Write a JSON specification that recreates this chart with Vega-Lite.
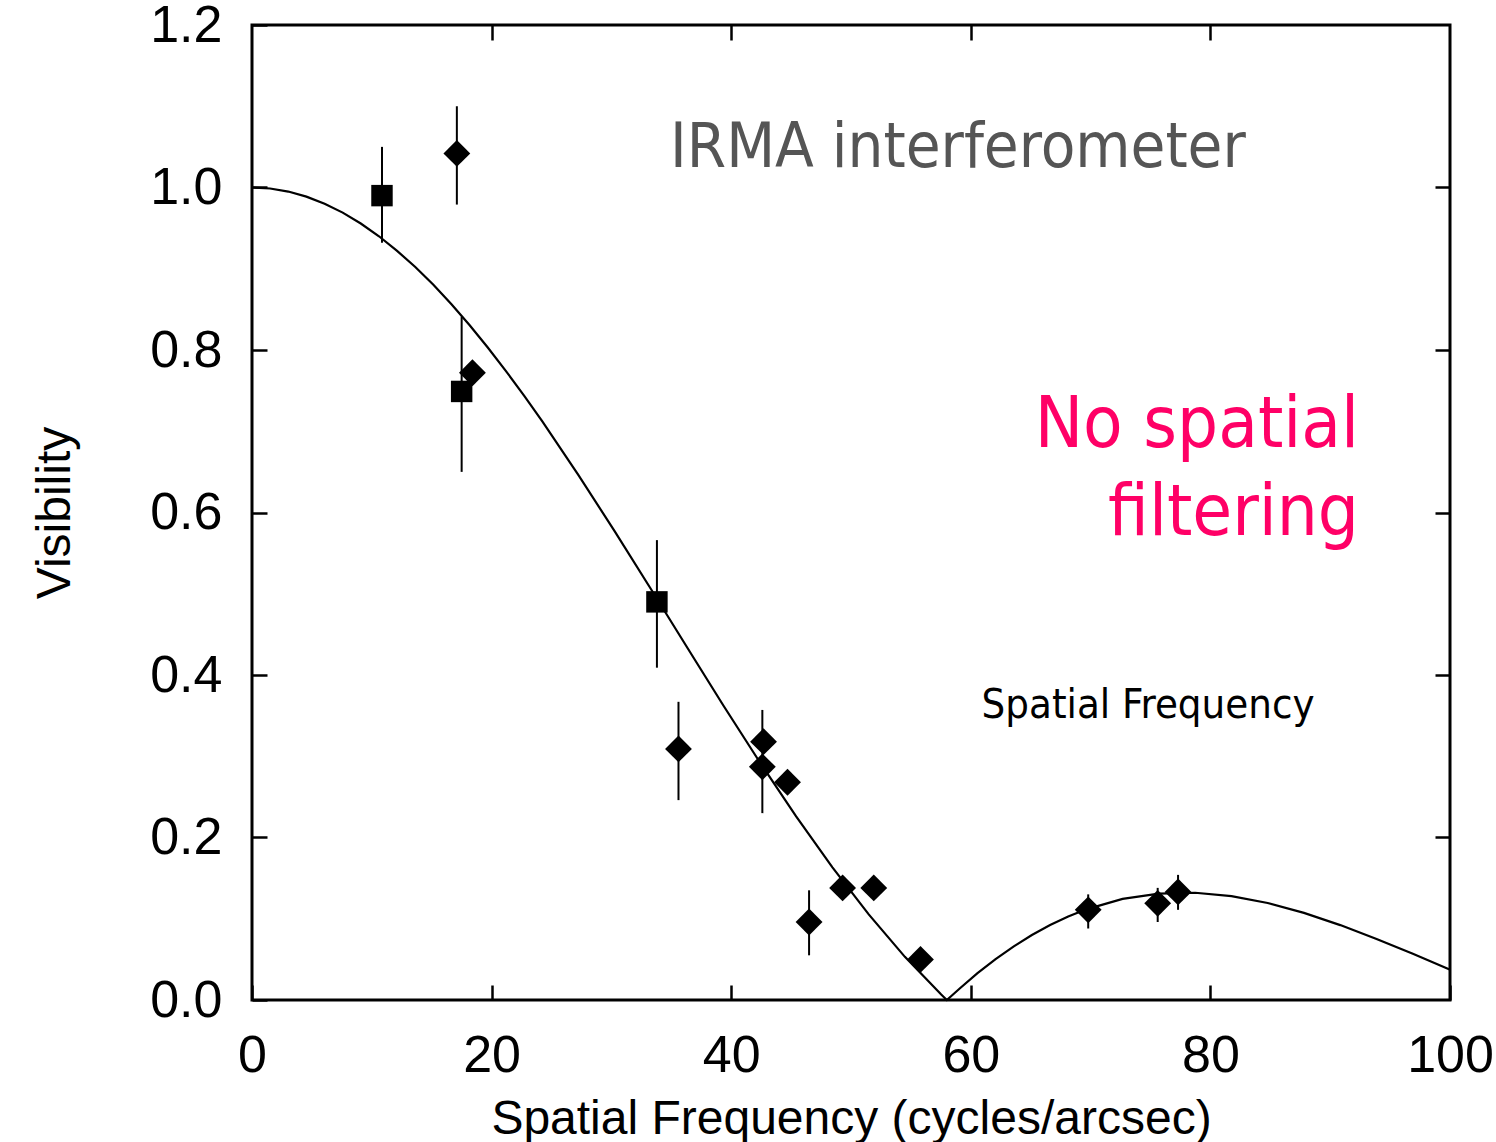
{
  "$schema": "https://vega.github.io/schema/vega-lite/v6.json",
  "width": 1198,
  "height": 975,
  "autosize": {"type": "none"},
  "padding": {"left": 252, "top": 25, "right": 46, "bottom": 142},
  "background": "white",
  "config": {
    "view": {"stroke": "black", "strokeWidth": 3},
    "axis": {
      "grid": false,
      "domain": false,
      "tickColor": "black",
      "tickWidth": 2.5,
      "tickSize": -15,
      "labelColor": "black",
      "titleColor": "black",
      "labelFont": "Liberation Sans Narrow, Arial Narrow, Liberation Sans, Arial",
      "titleFont": "Liberation Sans Narrow, Arial Narrow, Liberation Sans, Arial",
      "labelFontSize": 52,
      "titleFontSize": 48,
      "titleFontWeight": "normal",
      "labelFlush": false,
      "labelOverlap": false
    }
  },
  "datasets": {
    "curve": [
      {"q": 0, "v": 1.0},
      {"q": 1.51, "v": 0.99875},
      {"q": 3.03, "v": 0.995},
      {"q": 4.54, "v": 0.98879},
      {"q": 6.06, "v": 0.98},
      {"q": 7.57, "v": 0.96907},
      {"q": 9.08, "v": 0.9557},
      {"q": 10.6, "v": 0.93999},
      {"q": 12.11, "v": 0.922},
      {"q": 13.63, "v": 0.90211},
      {"q": 15.14, "v": 0.8802},
      {"q": 16.65, "v": 0.85619},
      {"q": 18.17, "v": 0.8305},
      {"q": 19.68, "v": 0.80311},
      {"q": 21.2, "v": 0.7741},
      {"q": 22.71, "v": 0.74392},
      {"q": 24.22, "v": 0.7124},
      {"q": 27.25, "v": 0.6461},
      {"q": 30.28, "v": 0.5767},
      {"q": 33.31, "v": 0.5055},
      {"q": 36.34, "v": 0.4335},
      {"q": 39.36, "v": 0.3622},
      {"q": 42.39, "v": 0.2926},
      {"q": 45.42, "v": 0.2261},
      {"q": 48.45, "v": 0.1633},
      {"q": 51.48, "v": 0.1054},
      {"q": 54.5, "v": 0.0531},
      {"q": 57.53, "v": 0.0067},
      {"q": 58.0, "v": 0.0},
      {"q": 59.05, "v": 0.0139},
      {"q": 60.56, "v": 0.033},
      {"q": 62.07, "v": 0.0504},
      {"q": 63.59, "v": 0.066},
      {"q": 65.1, "v": 0.08},
      {"q": 66.62, "v": 0.0922},
      {"q": 68.13, "v": 0.1027},
      {"q": 69.64, "v": 0.1116},
      {"q": 72.67, "v": 0.1244},
      {"q": 75.7, "v": 0.131},
      {"q": 78.73, "v": 0.132},
      {"q": 81.76, "v": 0.1279},
      {"q": 84.78, "v": 0.1194},
      {"q": 87.81, "v": 0.1072},
      {"q": 90.84, "v": 0.0922},
      {"q": 93.87, "v": 0.0751},
      {"q": 96.9, "v": 0.0568},
      {"q": 99.92, "v": 0.0379},
      {"q": 100, "v": 0.0374}
    ],
    "points": [
      {"series": "square", "q": 10.85, "v": 0.99, "lo": 0.932, "hi": 1.05},
      {"series": "square", "q": 17.5, "v": 0.749, "lo": 0.65, "hi": 0.841},
      {"series": "square", "q": 33.8, "v": 0.49, "lo": 0.409, "hi": 0.566},
      {"series": "diamond", "q": 17.1, "v": 1.042, "lo": 0.979, "hi": 1.1},
      {"series": "diamond", "q": 18.4, "v": 0.772},
      {"series": "diamond", "q": 35.6, "v": 0.309, "lo": 0.246, "hi": 0.367},
      {"series": "diamond", "q": 42.7, "v": 0.318},
      {"series": "diamond", "q": 42.6, "v": 0.287, "lo": 0.23, "hi": 0.357},
      {"series": "diamond", "q": 44.7, "v": 0.268},
      {"series": "diamond", "q": 46.5, "v": 0.096, "lo": 0.055, "hi": 0.135},
      {"series": "diamond", "q": 49.3, "v": 0.138},
      {"series": "diamond", "q": 51.9, "v": 0.138},
      {"series": "diamond", "q": 55.8, "v": 0.05},
      {"series": "diamond", "q": 69.8, "v": 0.111, "lo": 0.088, "hi": 0.13},
      {"series": "diamond", "q": 75.6, "v": 0.119, "lo": 0.096, "hi": 0.138},
      {"series": "diamond", "q": 77.3, "v": 0.133, "lo": 0.111, "hi": 0.154}
    ]
  },
  "layer": [
    {
      "data": {"name": "curve"},
      "mark": {"type": "line", "color": "black", "strokeWidth": 2.2},
      "encoding": {
        "x": {
          "field": "q", "type": "quantitative",
          "scale": {"domain": [0, 100], "nice": false, "zero": false},
          "axis": {
            "orient": "bottom",
            "values": [0, 20, 40, 60, 80, 100],
            "format": "d",
            "labelPadding": 45,
            "title": "Spatial Frequency (cycles/arcsec)",
            "titlePadding": 14
          }
        },
        "y": {
          "field": "v", "type": "quantitative",
          "scale": {"domain": [0, 1.2], "nice": false, "zero": false},
          "axis": {
            "orient": "left",
            "values": [0, 0.2, 0.4, 0.6, 0.8, 1.0, 1.2],
            "format": ".1f",
            "labelPadding": 45,
            "title": "Visibility",
            "titlePadding": 70
          }
        }
      }
    },
    {
      "data": {"name": "points"},
      "transform": [{"filter": "isValid(datum.lo)"}],
      "mark": {"type": "rule", "color": "black", "strokeWidth": 2},
      "encoding": {
        "x": {"field": "q", "type": "quantitative",
          "axis": {"orient": "top", "values": [20, 40, 60, 80], "labels": false, "title": null}},
        "y": {"field": "lo", "type": "quantitative",
          "axis": {"orient": "right", "values": [0.2, 0.4, 0.6, 0.8, 1.0], "labels": false, "title": null}},
        "y2": {"field": "hi"}
      }
    },
    {
      "data": {"name": "points"},
      "transform": [{"filter": "datum.series === 'square'"}],
      "mark": {"type": "point", "shape": "square", "filled": true, "color": "black", "size": 460, "opacity": 1},
      "encoding": {
        "x": {"field": "q", "type": "quantitative", "axis": null},
        "y": {"field": "v", "type": "quantitative", "axis": null}
      }
    },
    {
      "data": {"name": "points"},
      "transform": [{"filter": "datum.series === 'diamond'"}],
      "mark": {"type": "point", "shape": "diamond", "filled": true, "color": "black", "size": 720, "opacity": 1},
      "encoding": {
        "x": {"field": "q", "type": "quantitative", "axis": null},
        "y": {"field": "v", "type": "quantitative", "axis": null}
      }
    },
    {
      "data": {"values": [{"q": 34.9, "v": 1.025, "label": "IRMA interferometer"}]},
      "mark": {"type": "text", "align": "left", "baseline": "alphabetic", "font": "DejaVu Sans Condensed, DejaVu Sans", "fontSize": 63, "color": "#555555"},
      "encoding": {
        "x": {"field": "q", "type": "quantitative", "axis": null},
        "y": {"field": "v", "type": "quantitative", "axis": null},
        "text": {"field": "label"}
      }
    },
    {
      "data": {"values": [
        {"q": 92.4, "v": 0.6806, "label": "No spatial"},
        {"q": 92.4, "v": 0.5723, "label": "filtering"}
      ]},
      "mark": {"type": "text", "align": "right", "baseline": "alphabetic", "font": "DejaVu Sans Condensed, DejaVu Sans", "fontSize": 72, "color": "#FF0066"},
      "encoding": {
        "x": {"field": "q", "type": "quantitative", "axis": null},
        "y": {"field": "v", "type": "quantitative", "axis": null},
        "text": {"field": "label"}
      }
    },
    {
      "data": {"values": [{"q": 60.9, "v": 0.347, "label": "Spatial Frequency"}]},
      "mark": {"type": "text", "align": "left", "baseline": "alphabetic", "font": "DejaVu Sans Condensed, DejaVu Sans", "fontSize": 41.5, "color": "black"},
      "encoding": {
        "x": {"field": "q", "type": "quantitative", "axis": null},
        "y": {"field": "v", "type": "quantitative", "axis": null},
        "text": {"field": "label"}
      }
    }
  ],
  "resolve": {"axis": {"x": "independent", "y": "independent"}}
}
